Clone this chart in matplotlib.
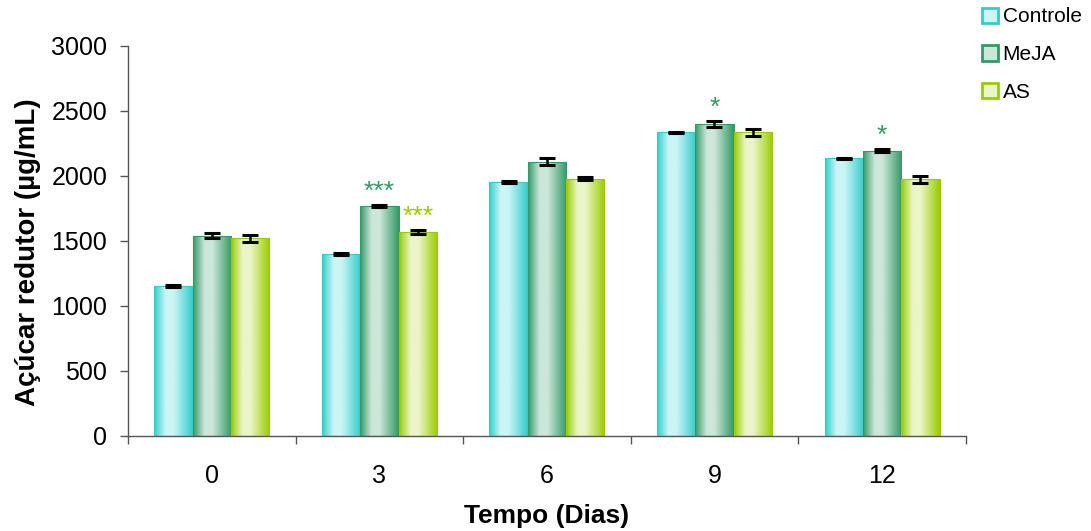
import numpy as np
import matplotlib
matplotlib.use("Agg")
import matplotlib.pyplot as plt
from matplotlib.colors import LinearSegmentedColormap
from matplotlib.patches import Patch

plt.rcParams["font.family"] = ["Liberation Sans", "DejaVu Sans"]

dias = ["0", "3", "6", "9", "12"]
series = ["Controle", "MeJA", "AS"]

controle = [1152, 1398, 1952, 2333, 2134]
meja = [1540, 1768, 2108, 2398, 2193]
as_vals = [1520, 1568, 1978, 2334, 1975]

controle_err = [5, 5, 5, 5, 5]
meja_err = [20, 8, 25, 22, 10]
as_err = [28, 12, 10, 28, 27]

meja_sig = ["", "***", "", "*", "*"]
as_sig = ["", "***", "", "", ""]

edge_colors = ["#33CCCC", "#339966", "#99CC00"]
light_colors = ["#CCF5F5", "#CDE6DA", "#EBF5C8"]

values = [controle, meja, as_vals]
errors = [controle_err, meja_err, as_err]
sigs = [None, meja_sig, as_sig]

fig = plt.figure(figsize=(10.91, 5.31), dpi=100)
ax = fig.add_axes([0.1173, 0.179, 0.768, 0.735])

x = np.arange(len(dias))
w = 0.229
grad = np.linspace(0, 1, 256).reshape(1, -1)

for i, name in enumerate(series):
    cmap = LinearSegmentedColormap.from_list(
        name, [(0, edge_colors[i]), (0.3, light_colors[i]), (0.5, light_colors[i]), (1, edge_colors[i])])
    pos = x + (i - 1) * w
    bars = ax.bar(pos, values[i], w, color="none", edgecolor=edge_colors[i], linewidth=0.8, zorder=3)
    for b in bars:
        x0, y0 = b.get_x(), b.get_y()
        im = ax.imshow(grad, cmap=cmap, aspect="auto", zorder=2,
                       extent=(x0, x0 + b.get_width(), y0, y0 + b.get_height()))
        im.set_clip_path(b)
    ax.errorbar(pos, values[i], yerr=errors[i], fmt="none", ecolor="black",
                elinewidth=1.8, capsize=5.5, capthick=2.2, zorder=4)
    if sigs[i] is not None:
        for j, s in enumerate(sigs[i]):
            if s:
                ax.annotate(s, (pos[j], values[i][j] + errors[i][j]), xytext=(0, 1),
                            textcoords="offset points", ha="center", va="bottom",
                            color=edge_colors[i], fontsize=19)

ax.set_xlim(-0.5, len(dias) - 0.5)
ax.set_ylim(0, 3000)
ax.set_yticks(range(0, 3001, 500))
ax.set_xticks(np.arange(-0.5, len(dias)), [""] * (len(dias) + 1))
ax.set_xticks(x, dias, minor=True)
ax.tick_params(axis="x", which="major", length=6, width=1, color="#555555", direction="out")
ax.tick_params(axis="x", which="minor", length=0, pad=20, labelsize=18)
ax.tick_params(axis="y", length=6, width=1, color="#555555", pad=9, labelsize=18)

for s in ["top", "right"]:
    ax.spines[s].set_visible(False)
for s in ["left", "bottom"]:
    ax.spines[s].set_color("#555555")
    ax.spines[s].set_linewidth(1)

ax.set_xlabel("Tempo (Dias)", fontsize=19, fontweight="bold", labelpad=12)
ax.set_ylabel("Açúcar redutor (µg/mL)", fontsize=20, fontweight="bold")
ax.yaxis.set_label_coords(-0.104, 0.47)

handles = [Patch(facecolor=light_colors[i], edgecolor=edge_colors[i], linewidth=2) for i in range(3)]
fig.legend(handles, series, loc="upper left", bbox_to_anchor=(0.9, 0.986), frameon=False,
           borderpad=0, borderaxespad=0, fontsize=15, handlelength=0.75, handleheight=0.75,
           handletextpad=0.25, labelspacing=0.9)

fig.savefig("out.png", dpi=100)
